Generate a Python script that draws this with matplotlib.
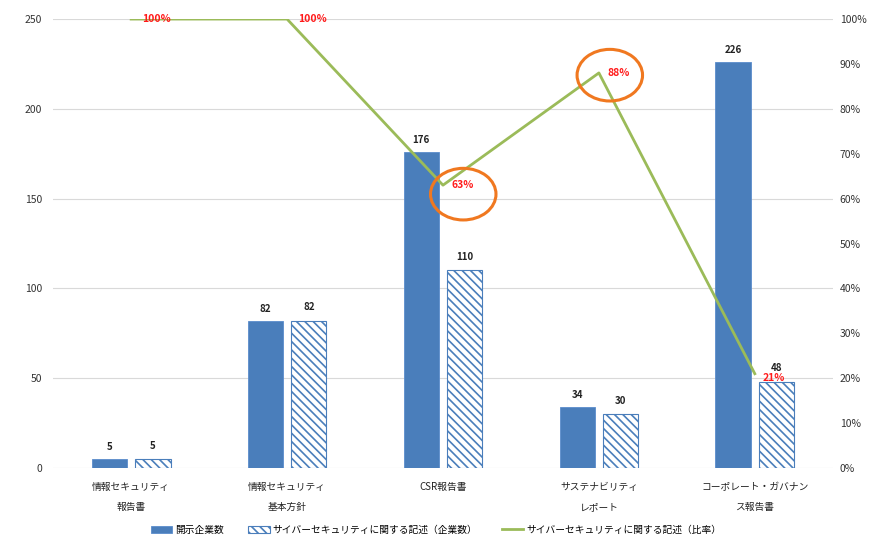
import matplotlib
matplotlib.use("Agg")
import matplotlib.pyplot as plt
from matplotlib.patches import Ellipse
import numpy as np

plt.rcParams['font.family'] = ['Noto Sans CJK JP', 'DejaVu Sans']
plt.rcParams['hatch.color'] = '#4a7ebb'
plt.rcParams['hatch.linewidth'] = 1.2

categories = ["情報セキュリティ\n報告書", "情報セキュリティ\n基本方針", "CSR報告書",
              "サステナビリティ\nレポート", "コーポレート・ガバナン\nス報告書"]
disclosed = [5, 82, 176, 34, 226]
cyber_count = [5, 82, 110, 30, 48]
cyber_ratio = [100, 100, 63, 88, 21]
ratio_labels = ["100%", "100%", "63%", "88%", "21%"]
left_ticks = [0, 50, 100, 150, 200, 250]
right_ticks = list(range(0, 101, 10))
legend_labels = ["開示企業数", "サイバーセキュリティに関する記述（企業数）", "サイバーセキュリティに関する記述（比率）"]

blue = '#4a7ebb'
green = '#9bbb59'
orange = '#f07820'

fig = plt.figure(figsize=(8.72, 5.37), dpi=100)
ax = fig.add_axes([0.061, 0.1285, 0.894, 0.836])
ax2 = ax.twinx()

x = np.arange(len(categories))
w = 0.225
off = 0.14
b1 = ax.bar(x - off, disclosed, w, color=blue, edgecolor='#5b8ccc', linewidth=0.6, zorder=2)
b2 = ax.bar(x + off, cyber_count, w, color='white', edgecolor=blue, hatch='\\\\\\\\', linewidth=0.8, zorder=2)

for xi, v in zip(x - off, disclosed):
    ax.annotate(str(v), (xi, v), xytext=(0, 5), textcoords='offset points',
                ha='center', va='bottom', fontsize=7, color='#222222', fontweight='bold')
for xi, v in zip(x + off, cyber_count):
    ax.annotate(str(v), (xi, v), xytext=(0, 6), textcoords='offset points',
                ha='center', va='bottom', fontsize=7, color='#222222', fontweight='bold')

ax.set_xlim(-0.5, len(categories) - 0.5)
ax.set_ylim(0, 250)
ax.set_yticks(left_ticks)
ax.grid(axis='y', color='#d9d9d9', linewidth=0.8, zorder=0)
ax.set_axisbelow(True)
ax.set_xticks(x)
ax.set_xticklabels(categories, fontsize=7, linespacing=2.3, color='#222222')
ax.tick_params(axis='x', length=0, pad=10)
ax.tick_params(axis='y', length=0, labelsize=7.5, labelcolor='#333333', pad=8)
for s in ax.spines.values():
    s.set_visible(False)

line, = ax2.plot(x, cyber_ratio, color=green, linewidth=2, zorder=3)
ax2.set_ylim(0, 100)
ax2.set_yticks(right_ticks)
ax2.set_yticklabels([f"{t}%" for t in right_ticks])
ax2.tick_params(axis='y', length=0, labelsize=7.5, labelcolor='#333333', pad=5)
for s in ax2.spines.values():
    s.set_visible(False)

label_offsets = [(8, 0), (8, 0), (14, 0), (14, 0), (14, -3)]
for xi, v, t, (dx, dy) in zip(x, cyber_ratio, ratio_labels, label_offsets):
    ax2.annotate(t, (xi, v), xytext=(dx, dy), textcoords='offset points',
                 ha='center' if dx > 10 else 'left', va='center', fontsize=7.5,
                 color='#ff1a1a', fontweight='bold', zorder=5)

# highlight circles around the two notable ratios
ax2.add_patch(Ellipse((2.13, 61), 0.42, 11.5, fill=False, edgecolor=orange, linewidth=2.2, zorder=4))
ax2.add_patch(Ellipse((3.07, 87.5), 0.42, 11.5, fill=False, edgecolor=orange, linewidth=2.2, zorder=4))

fig.legend([b1, b2, line], legend_labels, loc='lower center', ncol=3,
           bbox_to_anchor=(0.5, -0.012), frameon=False, fontsize=7,
           handlelength=2.2, columnspacing=2.5, handletextpad=0.3)

fig.savefig("out.png", dpi=100)
